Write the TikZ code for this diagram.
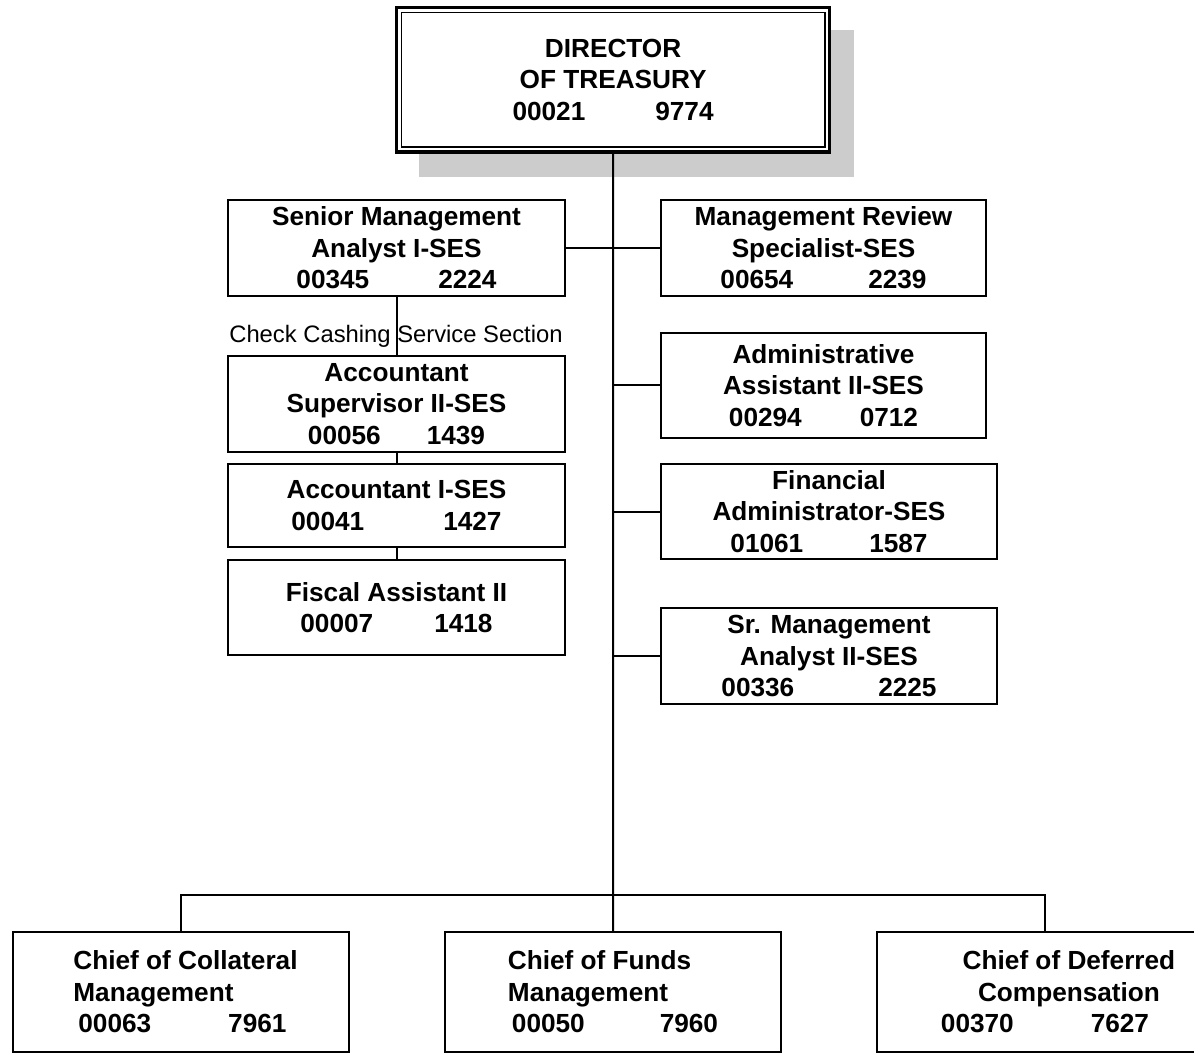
\documentclass[tikz,border=0pt]{standalone}
\usepackage{fontspec}
\setmainfont{Liberation Sans}
\usetikzlibrary{calc}
\begin{document}
\begin{tikzpicture}[x=0.5pt,y=-0.5pt,
  post/.style={draw=black, line width=1pt, fill=white, rectangle,
    inner sep=0pt, outer sep=0pt, anchor=north west, align=center,
    font=\fontsize{13.1}{15.75}\selectfont\bfseries},
  size/.style 2 args={minimum width=#1*0.5pt, minimum height=#2*0.5pt},
  link/.style={line width=1pt},
  note/.style={inner sep=0pt, font=\fontsize{11.9}{14}\selectfont},
]
\useasboundingbox (0,0) rectangle (1194,1053);

% drop shadow behind the director
\fill[black!20] (419,30) rectangle (854,177);

% director, framed by a heavy outer and a light inner line
\node[post, line width=1.65pt, size={432.8}{144.3}] (dir) at (396.7,7.7)
  {DIRECTOR\\OF TREASURY\\00021\hspace{35pt}9774};
\draw[line width=0.85pt] ($(dir.north west)+(4.7,4.7)$) rectangle ($(dir.south east)+(-4.7,-4.7)$);

% left staff column
\node[post, size={337}{96}] (sma) at (228,200)
  {Senior Management\\Analyst I-SES\\00345\hspace{34.5pt}2224};
\node[note] (ccs) at (396,336) {Check Cashing Service Section};
\node[post, size={337}{96}] (acs) at (228,356)
  {Accountant\\Supervisor II-SES\\00056\hspace{23pt}1439};
\node[post, size={337}{83}] (aci) at (228,464)
  {Accountant I-SES\\00041\hspace{39.5pt}1427};
\node[post, size={337}{95}] (fis) at (228,560)
  {Fiscal Assistant II\\00007\hspace{30.5pt}1418};

% right staff column
\node[post, size={325}{96}] (mrev) at (661,200)
  {Management Review\\Specialist-SES\\00654\hspace{37.5pt}2239};
\node[post, size={325}{105}] (adm) at (661,333)
  {Administrative\\Assistant II-SES\\00294\hspace{29pt}0712};
\node[post, size={336}{95}] (fin) at (661,464)
  {Financial\\Administrator-SES\\01061\hspace{33pt}1587};
\node[post, size={336}{96}] (sra) at (661,608)
  {Sr. Management\\Analyst II-SES\\00336\hspace{42pt}2225};

% division chiefs
\node[post, align=left, size={336}{120}] (cl) at (13,932)
  {\hspace*{4.5pt}Chief of Collateral\\\hspace*{4.5pt}Management\\\hspace*{7pt}00063\hspace{38.5pt}7961};
\node[post, align=left, size={336}{120}] (cf) at (445,932)
  {Chief of Funds\\Management\\\hspace*{2pt}00050\hspace{37.5pt}7960};
\node[post, size={336}{120}] (cd) at (877,932)
  {\hspace*{24pt}Chief of Deferred\\\hspace*{24pt}Compensation\\00370\hspace{38.5pt}7627};

% connectors
\coordinate (hub) at (613,895);
\coordinate (barR) at (1045,895);
\draw[link] (dir.south) -- (cf.north);
\draw[link] (cl.north) -- (cl.north |- hub) -- (barR) -- (barR |- cd.north);
\draw[link] (sma.east) -- (mrev.west);
\draw[link] (adm.west -| hub) -- (adm.west);
\draw[link] (fin.west -| hub) -- (fin.west);
\draw[link] (sra.west -| hub) -- (sra.west);
\draw[link] (sma.south) -- (acs.north);
\draw[link] (acs.south) -- (aci.north);
\draw[link] (aci.south) -- (fis.north);
\end{tikzpicture}
\end{document}
